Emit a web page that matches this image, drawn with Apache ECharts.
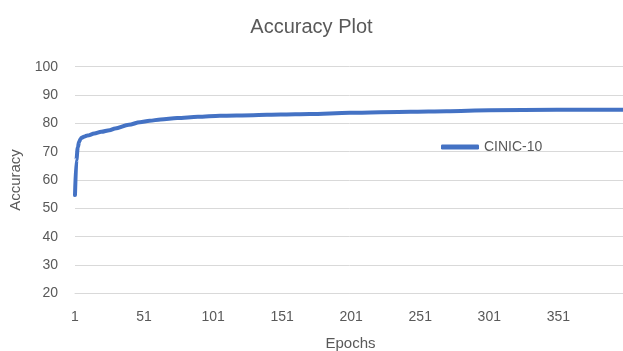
<!DOCTYPE html>
<html>
<head>
<meta charset="utf-8">
<style>
  html, body { margin: 0; padding: 0; background: #ffffff; }
  #chart { width: 623px; height: 351px; }
</style>
<script src="https://cdn.jsdelivr.net/npm/echarts@6/dist/echarts.min.js"></script>
</head>
<body>
<div id="chart"></div>
<script>
// Training accuracy per epoch for CINIC-10
const EPOCH_COUNT = 400;
const epochs   = [1, 2, 3, 4, 5, 6, 8, 10, 15, 20, 26, 30, 40, 48, 55, 63, 75, 90, 106, 130, 150, 171, 200, 244, 270, 301, 350, 400];
const accuracy = [54.7, 67.0, 71.5, 73.5, 74.5, 75.0, 75.4, 75.7, 76.4, 77.0, 77.6, 78.2, 79.5, 80.4, 80.9, 81.4, 81.9, 82.3, 82.7, 82.9, 83.1, 83.3, 83.7, 84.1, 84.3, 84.6, 84.8, 84.8];
const yTicks   = { min: 20, max: 100, step: 10 };
const seriesName = 'CINIC-10';

// Epoch categories 1..N
const categories = [];
for (let e = 1; e <= EPOCH_COUNT; e++) categories.push(String(e));

const points = epochs.map((e, i) => [String(e), accuracy[i]]);

const textColor = '#595959';
const gridColor = '#D9D9D9';
const lineColor = '#4472C4';
const font = '"Liberation Sans", Arial, sans-serif';

const chart = echarts.init(document.getElementById('chart'), null, { renderer: 'canvas' });
chart.setOption({
  animation: false,
  backgroundColor: '#ffffff',
  title: {
    text: 'Accuracy Plot',
    left: 'center',
    top: 12,
    textStyle: { color: textColor, fontFamily: font, fontSize: 20, fontWeight: 'normal' }
  },
  legend: {
    data: [{ name: seriesName, icon: 'roundRect' }],
    left: 436,
    top: 135,
    itemWidth: 38,
    itemHeight: 5,
    itemStyle: { color: lineColor },
    textStyle: { color: textColor, fontFamily: font, fontSize: 14 }
  },
  grid: { left: 75, right: -3, top: 66.7, bottom: 57.7, containLabel: false, outerBoundsMode: 'none' },
  xAxis: {
    type: 'category',
    data: categories,
    boundaryGap: false,
    name: 'Epochs',
    nameLocation: 'middle',
    nameGap: 43,
    nameTextStyle: { color: textColor, fontFamily: font, fontSize: 15 },
    axisLine: { show: true, lineStyle: { color: gridColor, width: 1 } },
    axisTick: { show: false },
    axisLabel: { interval: 49, color: textColor, fontFamily: font, fontSize: 14, margin: 17 },
    splitLine: { show: false }
  },
  yAxis: {
    type: 'value',
    min: yTicks.min,
    max: yTicks.max,
    interval: yTicks.step,
    name: 'Accuracy',
    nameLocation: 'middle',
    nameGap: 48,
    nameTextStyle: { color: textColor, fontFamily: font, fontSize: 15 },
    axisLine: { show: false },
    axisTick: { show: false },
    axisLabel: { color: textColor, fontFamily: font, fontSize: 14, margin: 17 },
    splitLine: { lineStyle: { color: gridColor, width: 1 } }
  },
  series: [{
    name: seriesName,
    type: 'line',
    data: points,
    symbol: 'none',
    smooth: 0.3,
    smoothMonotone: 'x',
    lineStyle: { color: lineColor, width: 4, cap: 'round', join: 'round' },
    itemStyle: { color: lineColor }
  }]
});
</script>
</body>
</html>
